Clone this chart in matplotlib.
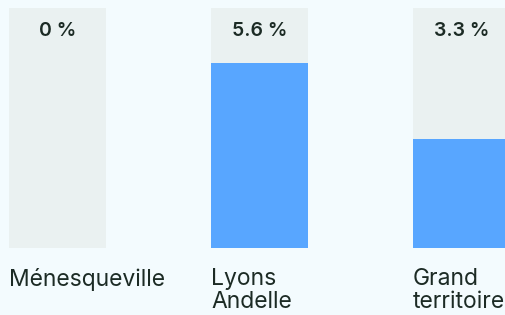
import matplotlib.pyplot as plt

# data
categories = ["Ménesqueville", "Lyons\nAndelle", "Grand\nterritoire"]
values = [0, 5.6, 3.3]
labels = ["0 %", "5.6 %", "3.3 %"]
ymax = 7.25

bg = "#f3fbfe"
col_bg = "#eaf1f1"
blue = "#58a6ff"
txt = "#1c2b25"

plt.rcParams['font.family'] = ['Inter', 'DejaVu Sans']

fig = plt.figure(figsize=(5.06, 3.15), dpi=100, facecolor=bg)
# axes covers the bar area (pixels 8..248 vertically)
ax = fig.add_axes([0, (315 - 248) / 315, 1, 240 / 315])
ax.set_facecolor(bg)

x = list(range(len(categories)))
w = 97 / 202
ax.bar(x, [ymax] * len(x), width=w, color=col_bg, zorder=1)
ax.bar(x, values, width=w, color=blue, zorder=2)

ax.set_xlim(-57.5 / 202, (506 - 57.5) / 202)
ax.set_ylim(0, ymax)
ax.axis('off')

for i, lab in enumerate(labels):
    ax.text(i, 0.904, lab, transform=ax.get_xaxis_transform(), ha='center', va='center',
            fontsize=14, fontweight='semibold', color=txt, zorder=3)

for i, cat in enumerate(categories):
    ax.text(i - w / 2, -0.085, cat, transform=ax.get_xaxis_transform(), ha='left', va='top',
            fontsize=16.5, color=txt, linespacing=1.05, clip_on=False)

fig.savefig("out.png", dpi=100, facecolor=bg)
